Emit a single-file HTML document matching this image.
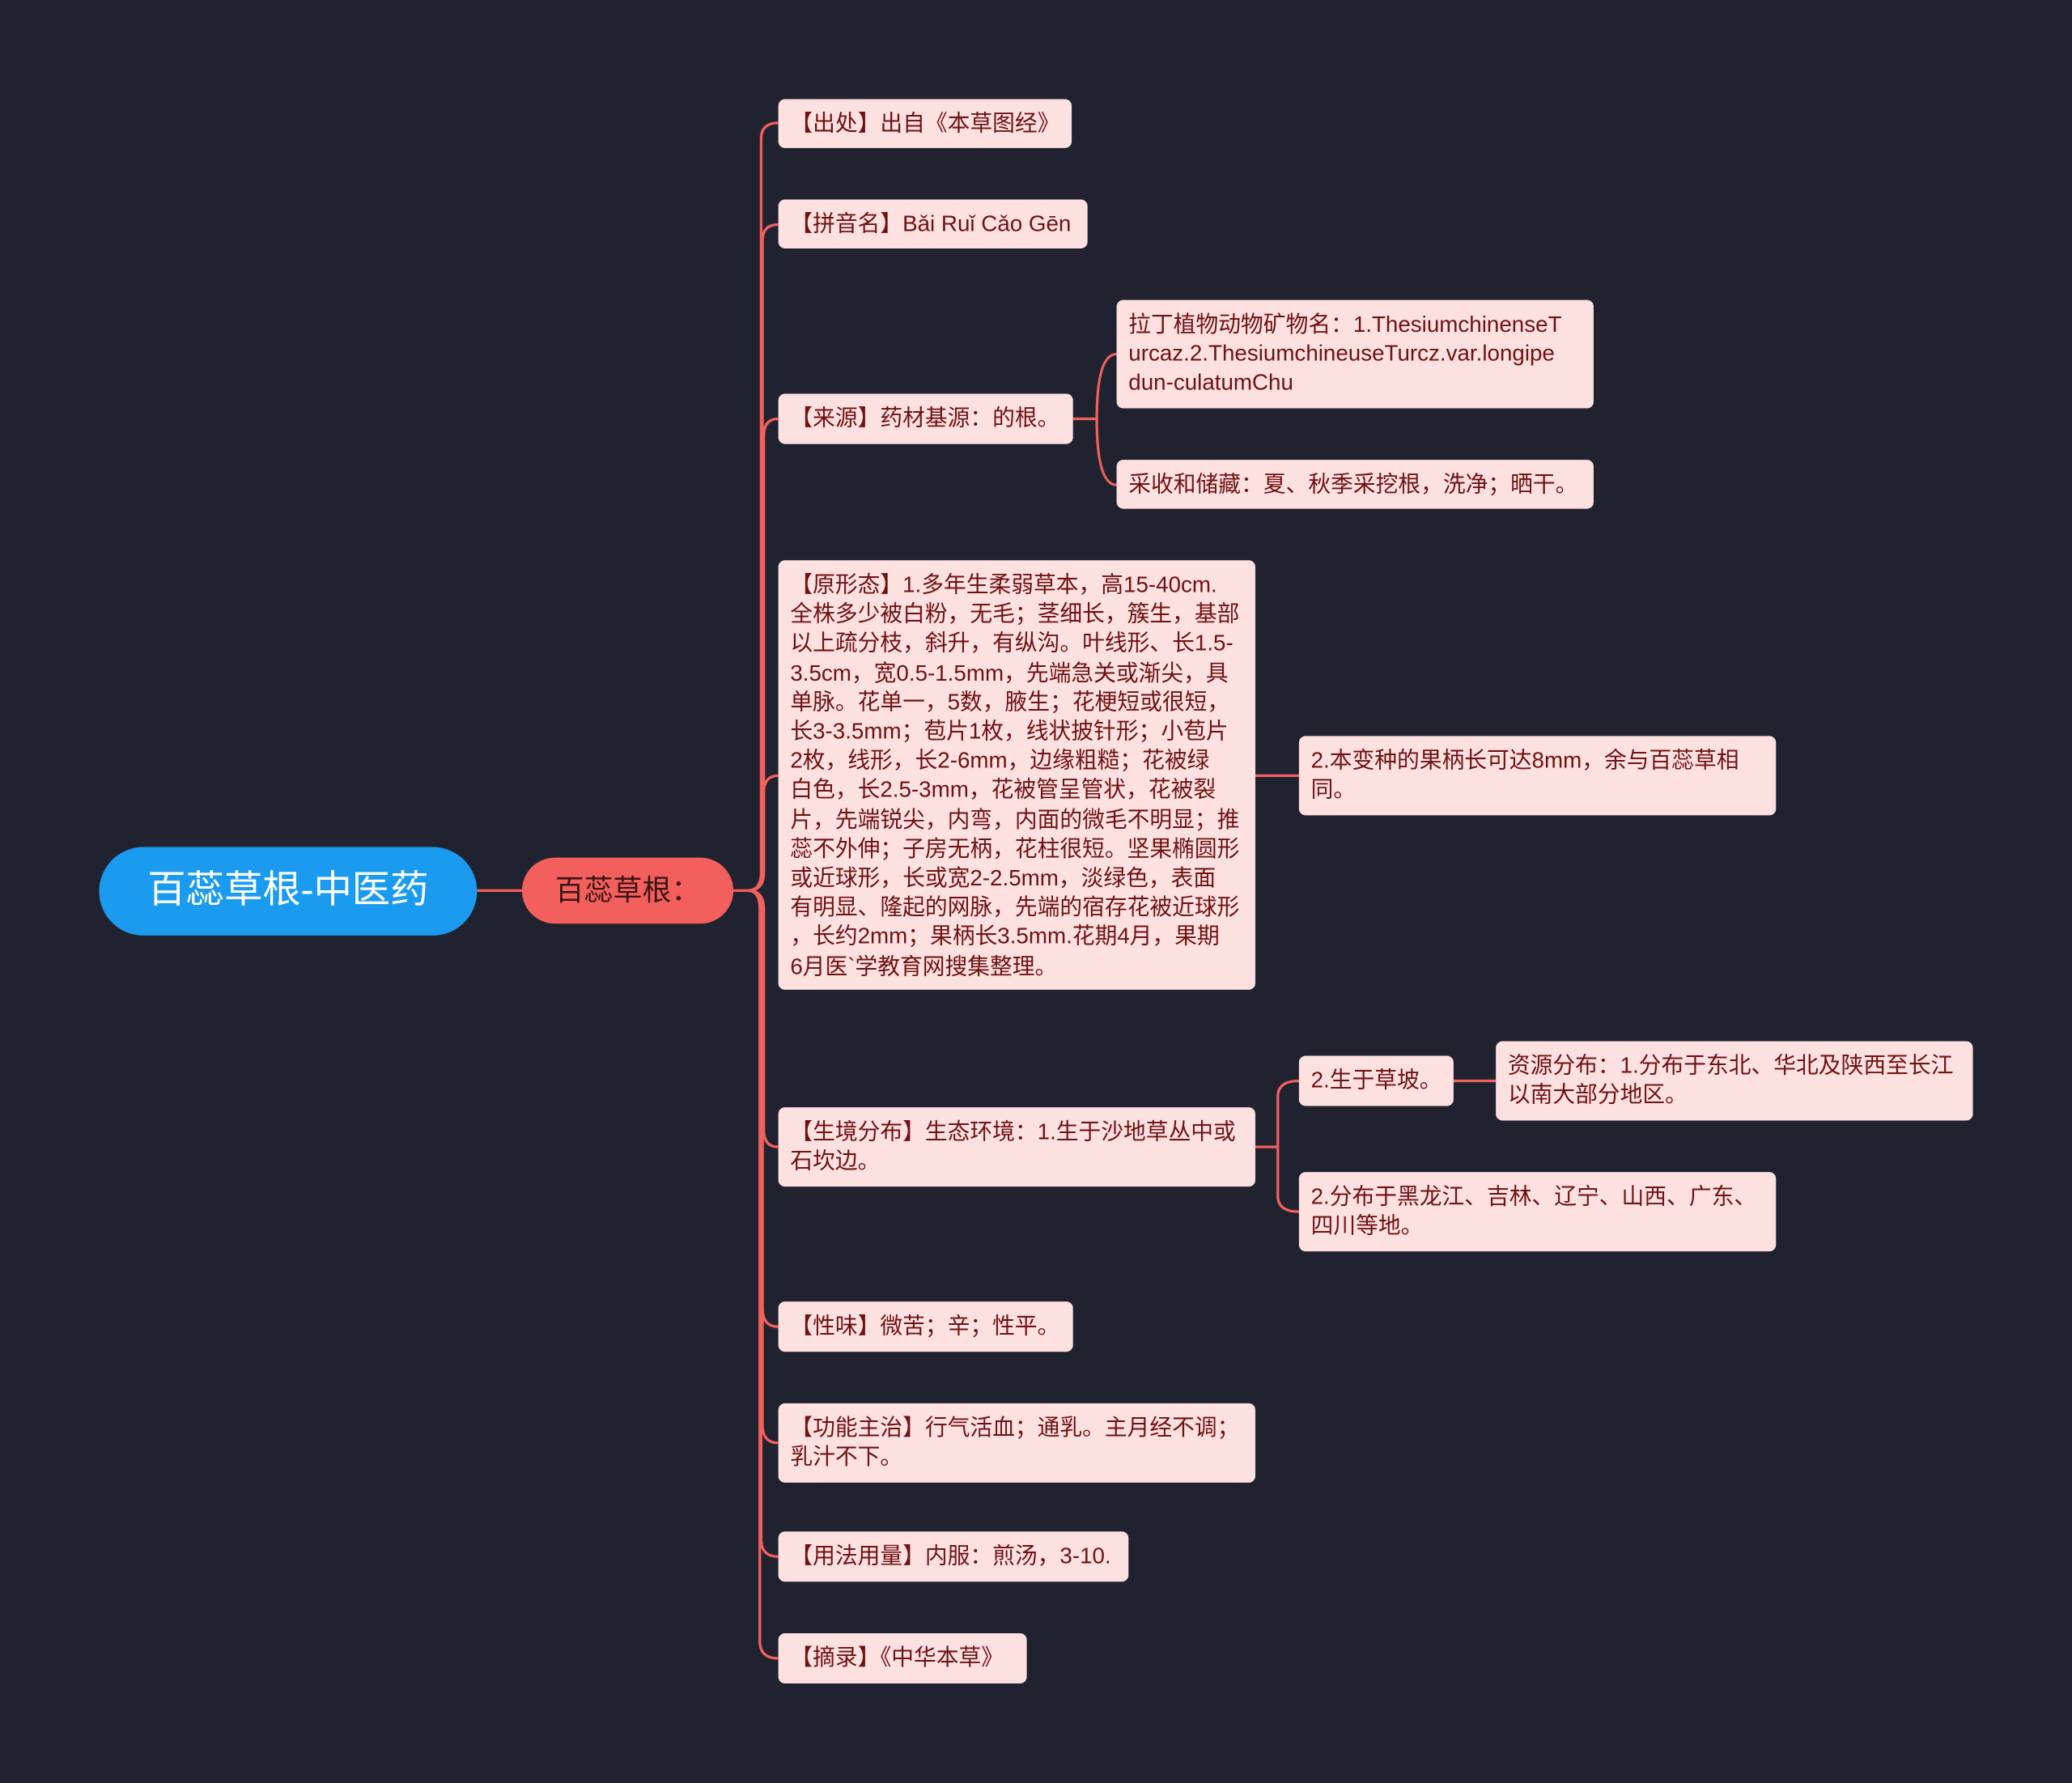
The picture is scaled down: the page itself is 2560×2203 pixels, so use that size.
<!DOCTYPE html>
<html><head><meta charset="utf-8"><style>
html,body{margin:0;padding:0;background:#20232f;}
#w{width:1568px;height:1349px;position:relative;transform:scale(1.63265);transform-origin:0 0;font-family:"Liberation Sans","Noto Sans CJK SC",sans-serif;}
.n{position:absolute;box-sizing:border-box;background:#fde0e0;color:#6e1212;font-size:17px;line-height:22.2px;padding:8px 9px;border-radius:5px;white-space:nowrap;}
.root{position:absolute;left:75px;top:641px;width:286px;height:67px;background:#1a9bf0;border-radius:34px;color:#fff;font-size:29px;text-align:center;line-height:67px;}
.main{position:absolute;left:395px;top:649px;width:160px;height:50px;background:#f25f5c;border-radius:25px;color:#3a1515;font-size:22px;text-align:center;line-height:50px;}
svg{position:absolute;left:0;top:0;}
</style></head><body><div id="w">
<svg width="1568" height="1349" fill="none" stroke="#f0605c" stroke-width="2">
<path d="M361 674 H395"/>
<path d="M555 674 H566"/>
<g>
<path d="M566 674 Q576 674 576 660 V105 Q576 93 589 93"/>
<path d="M566 674 Q577 674 577 660 V182 Q577 170 589 170"/>
<path d="M566 674 Q578 674 578 660 V330 Q578 317 589 317"/>
<path d="M566 674 Q578 674 578 660 V600 Q578 587 589 587"/>
<path d="M566 674 Q578 674 578 688 V855 Q578 868 589 868"/>
<path d="M566 674 Q577 674 577 688 V990 Q577 1004 589 1004"/>
<path d="M566 674 Q577 674 577 688 V1078 Q577 1092 589 1092"/>
<path d="M566 674 Q576 674 576 688 V1165 Q576 1178 589 1178"/>
<path d="M566 674 Q575 674 575 688 V1242 Q575 1255 589 1255"/>
<path d="M812 317 H830"/>
<path d="M830 317 Q830 268 845 268"/>
<path d="M830 317 Q830 367 845 367"/>
<path d="M950 587 H983"/>
<path d="M950 868 H967"/>
<path d="M967 868 V830 Q967 818 983 818"/>
<path d="M967 868 V905 Q967 917 983 917"/>
<path d="M1100 818 H1132"/>
</g>
</svg>
<div class="root">百蕊草根-中医药</div>
<div class="main">百蕊草根：</div>
<div class="n" style="left:589px;top:75px;width:222px;height:37px">【出处】出自《本草图经》</div>
<div class="n" style="left:589px;top:151px;width:234px;height:37px">【拼音名】Bǎi Ruǐ Cǎo Gēn</div>
<div class="n" style="left:589px;top:298px;width:223px;height:38px">【来源】药材基源：的根。</div>
<div class="n" style="left:845px;top:227px;width:361px;height:82px">拉丁植物动物矿物名：1.ThesiumchinenseT<br>urcaz.2.ThesiumchineuseTurcz.var.longipe<br>dun-culatumChu</div>
<div class="n" style="left:845px;top:348px;width:361px;height:37px">采收和储藏：夏、秋季采挖根，洗净；晒干。</div>
<div class="n" style="left:589px;top:424px;width:361px;height:325px">【原形态】1.多年生柔弱草本，高15-40cm.<br>全株多少被白粉，无毛；茎细长，簇生，基部<br>以上疏分枝，斜升，有纵沟。叶线形、长1.5-<br>3.5cm，宽0.5-1.5mm，先端急关或渐尖，具<br>单脉。花单一，5数，腋生；花梗短或很短，<br>长3-3.5mm；苞片1枚，线状披针形；小苞片<br>2枚，线形，长2-6mm，边缘粗糙；花被绿<br>白色，长2.5-3mm，花被管呈管状，花被裂<br>片，先端锐尖，内弯，内面的微毛不明显；推<br>蕊不外伸；子房无柄，花柱很短。坚果椭圆形<br>或近球形，长或宽2-2.5mm，淡绿色，表面<br>有明显、隆起的网脉，先端的宿存花被近球形<br>，长约2mm；果柄长3.5mm.花期4月，果期<br>6月医`学教育网搜集整理。</div>
<div class="n" style="left:983px;top:557px;width:361px;height:60px">2.本变种的果柄长可达8mm，余与百蕊草相<br>同。</div>
<div class="n" style="left:589px;top:838px;width:361px;height:60px">【生境分布】生态环境：1.生于沙地草丛中或<br>石坎边。</div>
<div class="n" style="left:983px;top:799px;width:117px;height:38px">2.生于草坡。</div>
<div class="n" style="left:1132px;top:788px;width:361px;height:60px">资源分布：1.分布于东北、华北及陕西至长江<br>以南大部分地区。</div>
<div class="n" style="left:983px;top:887px;width:361px;height:60px">2.分布于黑龙江、吉林、辽宁、山西、广东、<br>四川等地。</div>
<div class="n" style="left:589px;top:985px;width:223px;height:38px">【性味】微苦；辛；性平。</div>
<div class="n" style="left:589px;top:1062px;width:361px;height:60px">【功能主治】行气活血；通乳。主月经不调；<br>乳汁不下。</div>
<div class="n" style="left:589px;top:1159px;width:265px;height:38px">【用法用量】内服：煎汤，3-10.</div>
<div class="n" style="left:589px;top:1236px;width:188px;height:38px">【摘录】《中华本草》</div>
</div></body></html>
